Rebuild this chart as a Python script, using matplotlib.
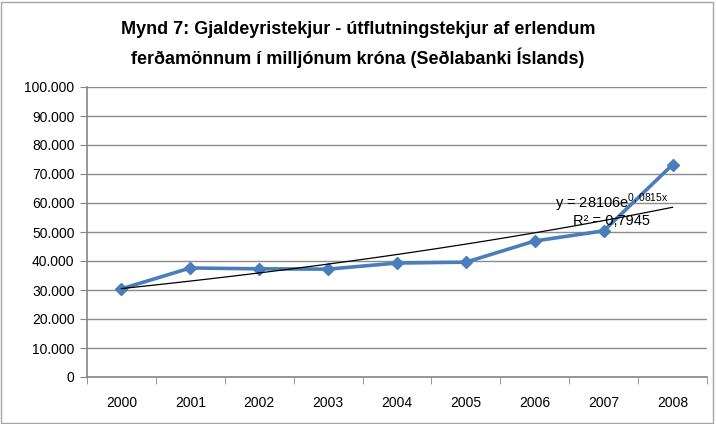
import matplotlib
matplotlib.use('Agg')
import matplotlib.pyplot as plt
from matplotlib.patches import Rectangle
from matplotlib.ticker import FuncFormatter
import numpy as np

# data (millions of ISK)
years = ['2000', '2001', '2002', '2003', '2004', '2005', '2006', '2007', '2008']
income = [30400, 37600, 37300, 37200, 39300, 39600, 46900, 50400, 73200]

# exponential trendline as printed on the chart
trend_a = 28106
trend_b = 0.0815
trend_label = 'y = 28106e$^{\\mathrm{0,0815x}}$\nR² = 0,7945'

title = ('Mynd 7: Gjaldeyristekjur - útflutningstekjur af erlendum\n'
         'ferðamönnum í milljónum króna (Seðlabanki Íslands)')

plt.rcParams['font.family'] = ['Liberation Sans Narrow', 'Liberation Sans', 'DejaVu Sans']
plt.rcParams['mathtext.fontset'] = 'custom'
plt.rcParams['mathtext.rm'] = 'Liberation Sans'

fig = plt.figure(figsize=(7.16, 4.24), dpi=100)
ax = fig.add_axes([87/716, 47/424, 620/716, 290/424])

# outer chart border
fig.patches.append(Rectangle((0.002, 0.003), 0.994, 0.993, transform=fig.transFigure,
                             fill=False, edgecolor='#a6a6a6', linewidth=1))

x = np.arange(len(years))
ax.plot(x, income, color='#4a7ebb', linewidth=2.6, marker='D', markersize=6.5,
        markeredgecolor='#4a7ebb', zorder=3)

xs = np.linspace(x[0], x[-1], 50)
ax.plot(xs, trend_a * np.exp(trend_b * (xs + 1)), color='black', linewidth=0.9, zorder=4)

ax.text(7.12, 57800, trend_label, ha='center', va='center', fontsize=10.5,
        linespacing=1.0, zorder=5)

ax.set_xlim(-0.5, len(years) - 0.5)
ax.set_ylim(0, 100000)
ax.set_yticks(np.arange(0, 100001, 10000))
ax.yaxis.set_major_formatter(FuncFormatter(lambda v, p: '{:,.0f}'.format(v).replace(',', '.')))
ax.set_xticks(x)
ax.set_xticklabels(years)
ax.set_xticks(np.arange(-0.5, len(years), 1), minor=True)
ax.tick_params(axis='x', which='major', length=0, pad=14, labelsize=10)
ax.tick_params(axis='x', which='minor', length=5, color='#868686', direction='out')
ax.tick_params(axis='y', length=5, color='#868686', labelsize=10, pad=4)

ax.grid(axis='y', color='#8c8c8c', linewidth=1)
ax.set_axisbelow(True)
for s in ['top', 'right']:
    ax.spines[s].set_visible(False)
for s in ['left', 'bottom']:
    ax.spines[s].set_color('#868686')
    ax.spines[s].set_linewidth(1.2)

fig.text(0.5, 0.895, title, ha='center', va='center', fontsize=13, fontweight='bold',
         linespacing=1.55)

fig.savefig('out.png', dpi=100)
